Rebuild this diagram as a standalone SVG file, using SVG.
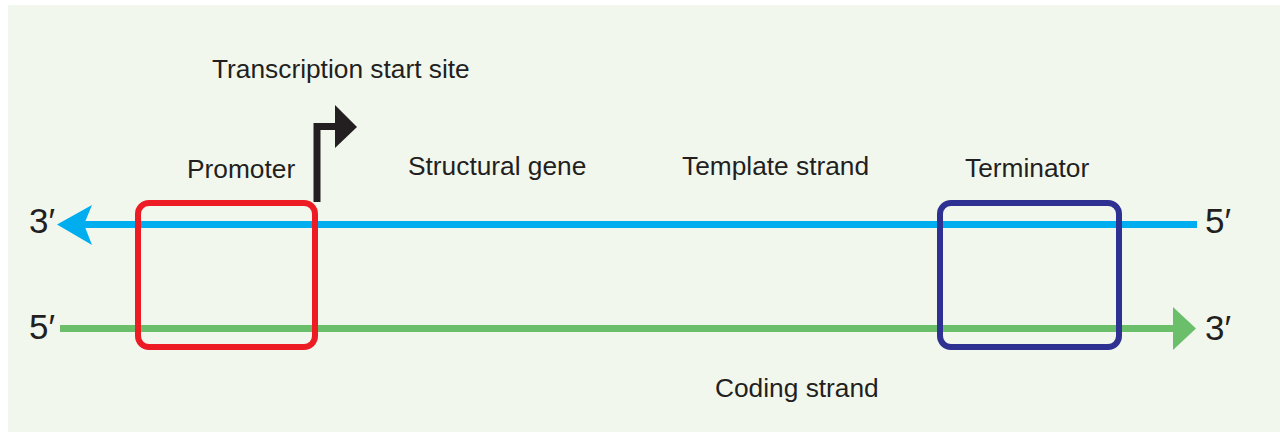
<svg xmlns="http://www.w3.org/2000/svg" width="1280" height="432" viewBox="0 0 1280 432">
<style>
text{font-family:"Liberation Sans",Arial,sans-serif;fill:#231f20}
.lbl{font-size:26.3px}
.end{font-size:35px}
.box{fill:none;stroke-width:6}
</style>
<rect x="0" y="0" width="1280" height="432" fill="#ffffff"/>
<rect x="8" y="5" width="1272" height="427" fill="#f2f7ee"/>
<g id="connectors">
<g id="template-strand">
<line x1="84" y1="224.5" x2="1197" y2="224.5" stroke="#00aeef" stroke-width="7"/>
<polygon points="57,224.5 92,205 84,224.5 92,245" fill="#00aeef"/>
</g>
<g id="coding-strand">
<line x1="60" y1="328.5" x2="1176" y2="328.5" stroke="#6cbf6a" stroke-width="7"/>
<polygon points="1173,307 1196,328.5 1173,350" fill="#6cbf6a"/>
</g>
<g id="tss-arrow">
<polyline points="317,202 317,126.5 338,126.5" fill="none" stroke="#231f20" stroke-width="7"/>
<polygon points="335,105 357,127 335,148" fill="#231f20"/>
</g>
</g>
<g id="promoter">
<rect class="box" x="138" y="203" width="177" height="144" rx="11" stroke="#ed1c24"/>
<text class="lbl" x="187" y="178">Promoter</text>
</g>
<g id="terminator">
<rect class="box" x="940" y="203" width="179" height="144" rx="11" stroke="#2e3192"/>
<text class="lbl" x="965" y="177">Terminator</text>
</g>
<g id="labels">
<text class="lbl" x="212" y="78">Transcription start site</text>
<text class="lbl" x="408" y="175">Structural gene</text>
<text class="lbl" x="682" y="175">Template strand</text>
<text class="lbl" x="715" y="397">Coding strand</text>
<text class="end" x="29" y="233">3′</text>
<text class="end" x="29" y="339">5′</text>
<text class="end" x="1205" y="233">5′</text>
<text class="end" x="1205" y="340">3′</text>
</g>
</svg>
